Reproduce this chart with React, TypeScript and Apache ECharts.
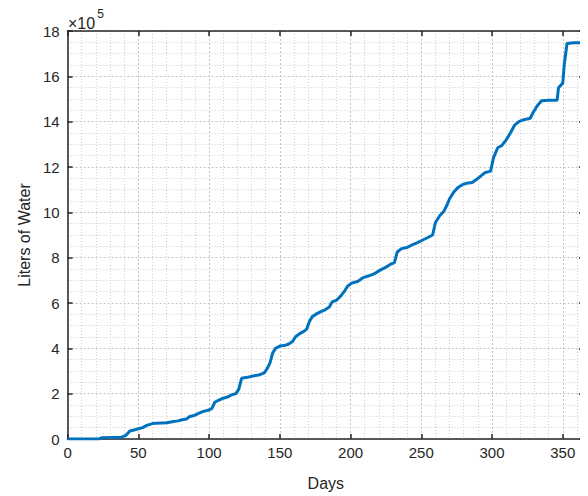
import React, { useEffect, useRef } from "react";
import * as echarts from "echarts";

const days = [0, 22, 24, 38, 41, 44, 47, 50, 53, 56, 60, 63, 70, 74, 78, 81, 84, 86, 90, 93, 96, 100, 102, 104, 107, 110, 113, 116, 119, 121, 123, 127, 131, 135, 139, 141, 143, 145, 147, 150, 153, 156, 159, 161, 164, 167, 169, 171, 173, 176, 179, 182, 185, 187, 190, 193, 196, 198, 201, 205, 209, 213, 217, 221, 225, 228, 231, 233, 236, 240, 243, 247, 251, 255, 258, 260, 263, 266, 268, 270, 273, 276, 279, 282, 286, 289, 292, 295, 299, 301, 304, 307, 310, 313, 316, 319, 322, 327, 329, 332, 335, 340, 346, 347, 350, 351, 353, 358, 365];
const litersE5 = [0, 0, 0.05, 0.08, 0.15, 0.35, 0.4, 0.45, 0.5, 0.6, 0.68, 0.7, 0.72, 0.76, 0.8, 0.85, 0.88, 0.98, 1.05, 1.14, 1.22, 1.28, 1.35, 1.62, 1.72, 1.8, 1.85, 1.95, 2.0, 2.2, 2.68, 2.72, 2.78, 2.82, 2.92, 3.1, 3.35, 3.8, 4.0, 4.1, 4.12, 4.18, 4.3, 4.5, 4.65, 4.75, 4.85, 5.2, 5.4, 5.52, 5.62, 5.7, 5.82, 6.05, 6.12, 6.3, 6.55, 6.75, 6.88, 6.95, 7.12, 7.2, 7.3, 7.45, 7.58, 7.7, 7.78, 8.25, 8.4, 8.45, 8.55, 8.65, 8.78, 8.9, 9.0, 9.55, 9.85, 10.05, 10.3, 10.6, 10.9, 11.1, 11.22, 11.28, 11.32, 11.45, 11.6, 11.75, 11.82, 12.4, 12.85, 12.95, 13.2, 13.5, 13.85, 14.0, 14.08, 14.15, 14.4, 14.7, 14.92, 14.95, 14.95, 15.5, 15.7, 16.5, 17.45, 17.48, 17.48];
const xTicks = [0, 50, 100, 150, 200, 250, 300, 350];
const yTickLabels = ["0", "2", "4", "6", "8", "10", "12", "14", "16", "18"];

const FONT = "Liberation Sans, Arial, Helvetica, sans-serif";
const TXT = "#262626";

export default function App() {
  const ref = useRef<HTMLDivElement>(null);
  useEffect(() => {
    if (!ref.current) return;
    const chart = echarts.init(ref.current, undefined, { renderer: "svg" });
    const data = days.map((d, i) => [d, litersE5[i] * 1e5]);
    const gridLine = { show: true, lineStyle: { color: "#c4c4c4", type: [2, 2] as any, width: 1 } };
    const minorLine = { show: true, lineStyle: { color: "#cfcfcf", type: [1, 2] as any, width: 1 } };
    const axisLine = { show: true, onZero: false, lineStyle: { color: TXT, width: 1.5 } };
    const tick = { show: true, inside: true, length: 5, lineStyle: { color: TXT, width: 1.5 } };
    chart.setOption({
      animation: false,
      backgroundColor: "#ffffff",
      grid: { left: 57, right: 4, top: 23, bottom: 57, containLabel: false },
      xAxis: [
        {
          type: "value",
          min: 0,
          max: 365,
          interval: 50,
          name: "Days",
          nameLocation: "middle",
          nameGap: 36,
          nameTextStyle: { fontFamily: FONT, fontSize: 16, color: TXT },
          axisLine,
          axisTick: tick,
          axisLabel: {
            fontFamily: FONT,
            fontSize: 15,
            color: TXT,
            margin: 6,
            formatter: (v: number) => (xTicks.includes(v) ? String(v) : ""),
          },
          splitLine: gridLine,
          minorTick: { show: false, splitNumber: 5 },
          minorSplitLine: minorLine,
        },
        {
          type: "value",
          position: "top",
          min: 0,
          max: 365,
          interval: 50,
          axisLine,
          axisTick: tick,
          axisLabel: { show: false },
          splitLine: { show: false },
        },
      ],
      yAxis: [
        {
          type: "value",
          min: 0,
          max: 1800000,
          interval: 200000,
          name: "Liters of Water",
          nameLocation: "middle",
          nameGap: 35,
          nameRotate: 90,
          nameTextStyle: { fontFamily: FONT, fontSize: 16, color: TXT },
          axisLine,
          axisTick: tick,
          axisLabel: {
            fontFamily: FONT,
            fontSize: 15,
            color: TXT,
            margin: 8,
            formatter: (v: number) => yTickLabels[Math.round(v / 200000)] ?? "",
          },
          splitLine: gridLine,
          minorTick: { show: false, splitNumber: 4 },
          minorSplitLine: minorLine,
        },
        {
          type: "value",
          position: "right",
          min: 0,
          max: 1800000,
          interval: 200000,
          axisLine,
          axisTick: tick,
          axisLabel: { show: false },
          splitLine: { show: false },
        },
      ],
      graphic: [
        {
          type: "text",
          left: 60,
          top: 0,
          style: {
            text: "{a|×10}{b|5}",
            rich: {
              a: { fontFamily: FONT, fontSize: 16, fill: TXT, verticalAlign: "bottom", padding: [8, 0, 0, 0] },
              b: { fontFamily: FONT, fontSize: 12, fill: TXT, padding: [0, 0, 10, 2] },
            },
          } as any,
        },
      ],
      series: [
        {
          type: "line",
          data,
          xAxisIndex: 0,
          yAxisIndex: 0,
          showSymbol: false,
          lineStyle: { color: "#0072BD", width: 3 },
          itemStyle: { color: "#0072BD" },
        },
      ],
    });
    return () => chart.dispose();
  }, []);
  return <div ref={ref} style={{ width: 580, height: 488 }} />;
}
